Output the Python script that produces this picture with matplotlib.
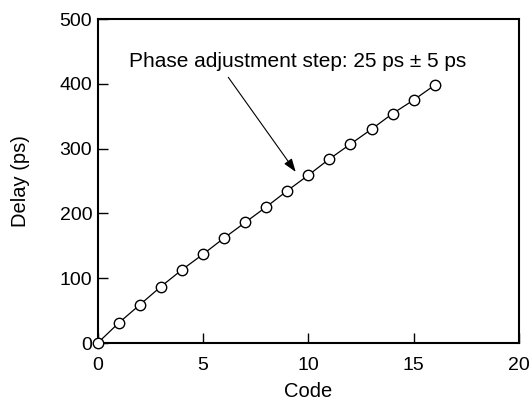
import matplotlib
matplotlib.use("Agg")
import matplotlib.pyplot as plt

# values
codes = list(range(17))
delay_ps = [0, 31, 59, 87, 113, 137, 162, 186, 210, 235,
            259, 284, 307, 330, 354, 375, 398]

plt.rcParams["font.family"] = ["Liberation Sans", "DejaVu Sans"]

fig = plt.figure(figsize=(5.31, 4.03), dpi=100)
ax = fig.add_axes([97.7 / 531, 1 - 343 / 403, (519 - 97.7) / 531, (343 - 19) / 403])

ax.plot(codes, delay_ps, color="black", linewidth=0.9, marker="o",
        markersize=7.5, markerfacecolor="white", markeredgecolor="black",
        markeredgewidth=1.0, clip_on=False, zorder=3)

ax.set_xlim(0, 20)
ax.set_ylim(0, 500)
ax.set_xticks([0, 5, 10, 15, 20])
ax.set_yticks([0, 100, 200, 300, 400, 500])
ax.tick_params(direction="in", length=7, width=1, labelsize=14,
               top=False, right=False)
ax.tick_params(axis="x", pad=10)
ax.tick_params(axis="y", pad=4)
for s in ax.spines.values():
    s.set_linewidth(1.5)

ax.set_xlabel("Code", fontsize=14.5, labelpad=6)
ax.set_ylabel("Delay (ps)", fontsize=14.5, labelpad=21)

ax.annotate("", xy=(9.4, 264), xytext=(6.2, 410),
            arrowprops=dict(arrowstyle="-|>,head_length=0.8,head_width=0.28",
                            color="black", linewidth=0.8, shrinkA=0, shrinkB=0))
ax.text(9.5, 434, "Phase adjustment step: 25 ps \u00b1 5 ps",
        ha="center", va="center", fontsize=15)

fig.savefig("out.png", dpi=100)
